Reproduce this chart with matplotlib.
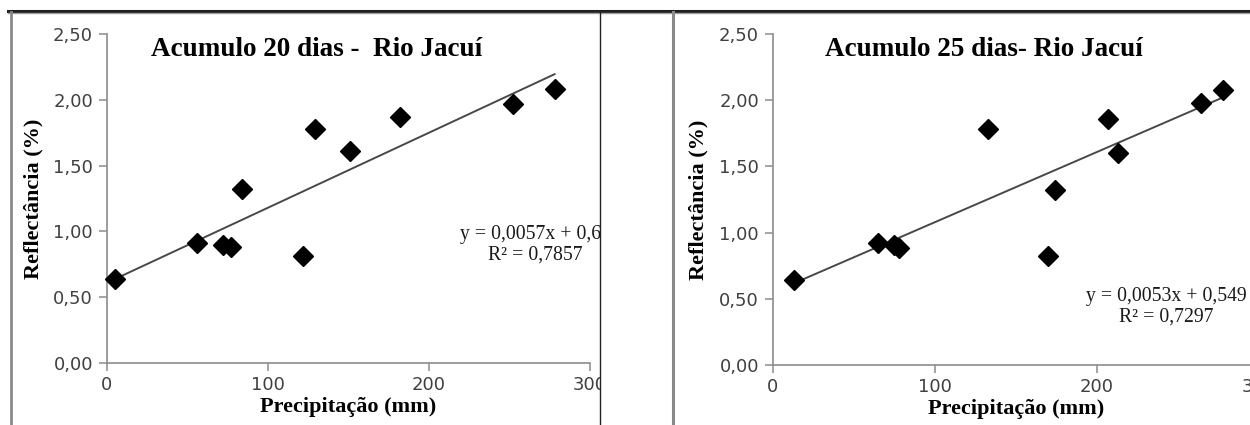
import matplotlib
matplotlib.use("Agg")
import matplotlib.pyplot as plt
import numpy as np
from matplotlib.patches import Rectangle
from matplotlib.lines import Line2D
from matplotlib.ticker import FuncFormatter

# data
precip_20 = [5, 56, 72, 77, 84, 122, 129, 151, 182, 252, 278]
refl_20 = [0.64, 0.91, 0.90, 0.88, 1.32, 0.81, 1.78, 1.61, 1.87, 1.97, 2.08]
precip_25 = [13, 65, 75, 78, 133, 170, 174, 207, 213, 264, 278]
refl_25 = [0.64, 0.92, 0.91, 0.88, 1.78, 0.82, 1.32, 1.86, 1.60, 1.98, 2.08]

# trend lines as printed on the charts
slope_20, icpt_20, r2_20 = 0.0057, 0.61, "0,7857"
slope_25, icpt_25, r2_25 = 0.0053, 0.549, "0,7297"

titles = ["Acumulo 20 dias -  Rio Jacuí", "Acumulo 25 dias- Rio Jacuí"]
eq_texts = ["y = 0,0057x + 0,61", "y = 0,0053x + 0,549"]

W, H = 1250, 425
SERIF = ["Liberation Serif", "DejaVu Serif"]
AXIS_GRAY = "#8c8c8c"
TICK_TXT = "#404040"


def fig_rect(x0, x1, y_top, y_bot):
    # pixel box -> figure fraction
    return [x0 / W, (H - y_bot) / H, (x1 - x0) / W, (y_bot - y_top) / H]


def comma(v, pos):
    return f"{v:.2f}".replace(".", ",")


def draw_chart(ax, xs, ys, slope, icpt, title, eq, r2, eq_pos, r2_pos):
    ax.set_xlim(0, 300)
    ax.set_ylim(0, 2.5)
    for s in ["top", "right"]:
        ax.spines[s].set_visible(False)
    for s in ["left", "bottom"]:
        ax.spines[s].set_color(AXIS_GRAY)
        ax.spines[s].set_linewidth(1.2)
    ax.set_xticks([0, 100, 200, 300])
    ax.set_yticks(np.arange(0, 2.51, 0.5))
    ax.yaxis.set_major_formatter(FuncFormatter(comma))
    ax.tick_params(direction="out", length=6, width=1.1, color=AXIS_GRAY,
                   labelcolor=TICK_TXT, labelsize=13)
    ax.tick_params(axis="x", pad=3.5)
    ax.tick_params(axis="y", pad=4)
    for lab in ax.get_xticklabels() + ax.get_yticklabels():
        lab.set_fontfamily("DejaVu Sans")

    xl = np.array([min(xs), max(xs)])
    ax.plot(xl, slope * xl + icpt, color="#484848", lw=1.4, zorder=2)
    ax.plot(xs, ys, "D", color="black", ms=10, zorder=3, clip_on=False)

    ax.text(130, 2.38, title, ha="center", va="center", fontsize=19.5,
            fontweight="bold", family=SERIF)
    ax.text(eq_pos[0], eq_pos[1], eq, ha="center", va="center", fontsize=14.2,
            family=SERIF, color="#1a1a1a")
    ax.text(r2_pos[0], r2_pos[1], "R² = " + r2, ha="center", va="center",
            fontsize=14.2, family=SERIF, color="#1a1a1a")

    ax.set_xlabel("Precipitação (mm)", fontsize=16, fontweight="bold",
                  family=SERIF, va="center")
    ax.set_ylabel("Reflectância (%)", fontsize=16, fontweight="bold",
                  family=SERIF, va="center")
    ax.xaxis.set_label_coords(0.5, -0.133)
    ax.yaxis.set_label_coords(-0.153, 0.5)


fig = plt.figure(figsize=(W / 100, H / 100), dpi=100)

ax1 = fig.add_axes(fig_rect(107, 590, 34, 363))
draw_chart(ax1, precip_20, refl_20, slope_20, icpt_20, titles[0], eq_texts[0],
           r2_20, (266, 0.98), (266, 0.82))

ax2 = fig.add_axes(fig_rect(773, 1259, 34, 365))
draw_chart(ax2, precip_25, refl_25, slope_25, icpt_25, titles[1], eq_texts[1],
           r2_25, (243, 0.514), (243, 0.363))


def px_line(x0, y0, x1, y1, color, lw):
    fig.add_artist(Line2D([x0 / W, x1 / W], [(H - y0) / H, (H - y1) / H],
                          color=color, lw=lw, zorder=10))


# blank gap between the two panels hides what spills over the left one
fig.add_artist(Rectangle((600 / W, 0), 72 / W, (H - 12) / H, facecolor="white",
                         edgecolor="none", zorder=9, transform=fig.transFigure))

# panel frames
px_line(8, 10.5, W, 10.5, "#202020", 2.2)
px_line(8, 12.8, W, 12.8, "#a0a0a0", 1.0)
px_line(10.5, 12, 10.5, H, "#8a8a8a", 2.0)
px_line(599.5, 12, 599.5, H, "#202020", 1.0)
px_line(673, 12, 673, H, "#8a8a8a", 2.2)

fig.savefig("out.png", dpi=100)
